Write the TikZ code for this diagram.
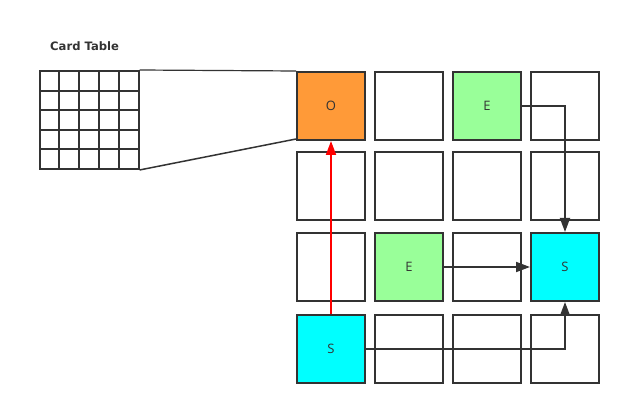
\documentclass[tikz,border=0pt]{standalone}
\usepackage{fontspec}
\setmainfont{Open Sans}
\newfontfamily\lblfont{DejaVu Sans}
\usetikzlibrary{arrows.meta}
\definecolor{ln}{HTML}{333333}
\definecolor{orangec}{HTML}{FF9A38}
\definecolor{greenc}{HTML}{99FF99}
\definecolor{cyanc}{HTML}{00FFFF}
\begin{document}
\begin{tikzpicture}[x=1pt,y=-1pt,
  cell/.style={draw=ln, line width=2pt, minimum size=68pt, inner sep=0pt, font=\fontsize{13}{13}\selectfont, text=ln},
  arr/.style={draw=ln, line width=1.8pt, -{Triangle[length=14pt,width=10pt]}},
  redarr/.style={draw=red, line width=1.8pt, -{Triangle[length=14pt,width=10pt]}},
  thin line/.style={draw=ln, line width=1.5pt}]
\useasboundingbox (0,0) rectangle (625,409);
% label
\node[font=\lblfont\bfseries\fontsize{11.6}{12}\selectfont, text=ln, anchor=west, inner sep=0pt] (lbl) at (50,46) {Card Table};
% card table
\node[draw=ln, line width=2pt, minimum width=99pt, minimum height=98pt, inner sep=0pt] (ct) at (89,120) {};
\foreach \i in {1,2,3,4} {
  \draw[ln, line width=2pt] (39+20*\i,71) -- (39+20*\i,169);
  \draw[ln, line width=2pt] (39,71+19.6*\i) -- (139,71+19.6*\i);
}
% big grid
\node[cell, fill=orangec] (o) at (331,106) {O};
\node[cell] (c12) at (409,106) {};
\node[cell, fill=greenc] (e1) at (487,106) {E};
\node[cell] (c14) at (565,106) {};
\node[cell] (c21) at (331,186) {};
\node[cell] (c22) at (409,186) {};
\node[cell] (c23) at (487,186) {};
\node[cell] (c24) at (565,186) {};
\node[cell] (c31) at (331,267) {};
\node[cell, fill=greenc] (e2) at (409,267) {E};
\node[cell] (c33) at (487,267) {};
\node[cell, fill=cyanc] (s2) at (565,267) {S};
\node[cell, fill=cyanc] (s1) at (331,349) {S};
\node[cell] (c42) at (409,349) {};
\node[cell] (c43) at (487,349) {};
\node[cell] (c44) at (565,349) {};
% zoom lines
\draw[draw=ln, line width=1.2pt] (ct.north east) -- (o.north west);
\draw[thin line] (ct.south east) -- ([yshift=2pt]o.south west);
% arrows
\draw[redarr] (s1.north) -- (o.south);
\draw[arr] (e1.east) -| (s2.north);
\draw[arr] (e2.east) -- (s2.west);
\draw[arr] (s1.east) -| (s2.south);
\end{tikzpicture}
\end{document}
